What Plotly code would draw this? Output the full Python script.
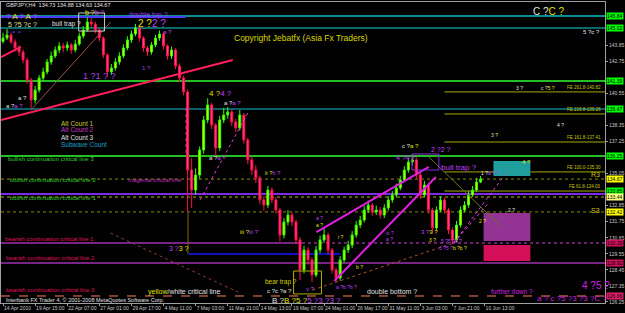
import plotly.graph_objects as go

# ---------------- data (GBPJPY H4, every 2nd bar) ----------------
first_open = 144.10
closes = [144.33,144.54,144.06,143.65,143.37,142.83,141.46,140.09,140.77,141.59,
          142.01,142.69,143.10,143.51,143.79,143.65,143.86,143.51,143.92,144.47,
          144.88,145.43,145.29,144.88,144.33,143.17,142.01,142.28,142.69,143.10,
          143.65,144.20,144.61,145.02,144.33,143.65,143.37,143.86,144.33,144.61,
          143.79,143.10,143.51,142.42,141.59,140.64,135.29,133.92,134.95,136.66,
          138.72,139.75,138.37,136.80,138.72,139.06,139.27,138.58,138.17,139.06,
          137.35,135.98,135.29,134.74,133.24,132.89,133.92,133.24,132.55,130.84,
          131.73,132.21,131.73,130.50,128.44,129.81,129.13,128.10,129.81,130.50,
          130.84,129.81,128.44,127.89,129.13,129.81,130.15,130.84,131.52,131.86,
          132.55,132.89,132.41,132.55,132.21,132.69,133.24,133.58,134.06,134.61,
          135.29,135.84,135.98,134.95,133.58,134.26,132.55,131.32,132.55,133.24,
          132.55,131.18,130.50,131.52,132.55,132.89,133.58,133.92,134.47,134.67]
highs = [144.70,144.95,144.70,144.25,143.85,143.55,143.00,141.60,141.05,141.80,
         142.30,142.90,143.40,143.75,144.05,144.00,144.10,144.00,144.20,144.70,
         145.15,145.75,145.70,145.45,145.00,144.45,143.30,142.55,142.95,143.35,
         143.90,144.45,144.85,145.30,145.10,144.45,143.80,144.05,144.55,144.85,
         144.70,143.90,143.75,143.65,142.60,141.75,140.80,136.10,135.40,136.90,
         139.00,140.20,139.90,138.50,139.00,139.55,139.60,139.40,138.80,139.40,
         139.20,137.50,136.20,135.60,134.90,133.50,134.20,134.10,133.45,132.70,
         132.00,132.55,132.40,131.90,130.70,130.10,130.00,129.30,130.10,130.80,
         131.30,131.00,129.95,128.60,129.40,130.05,130.45,131.10,131.80,132.15,
         132.85,133.20,133.05,132.85,132.75,132.95,133.50,133.85,134.35,134.90,
         135.55,136.10,136.32,136.15,135.10,134.55,134.40,132.70,132.80,133.50,
         133.40,132.70,131.35,131.80,132.80,133.15,133.85,134.20,134.73,134.88]
lows = [143.95,144.20,143.90,143.40,143.10,142.60,141.20,139.54,139.85,140.60,
        141.40,141.85,142.50,142.95,143.30,143.35,143.45,143.25,143.35,143.80,
        144.30,144.75,145.05,144.65,144.10,142.95,141.65,141.80,142.10,142.50,
        142.95,143.50,144.00,144.45,144.10,143.40,143.10,143.20,143.70,144.15,
        143.55,142.85,142.90,142.20,141.30,140.40,132.41,132.70,133.60,134.70,
        136.40,138.50,138.10,136.20,136.60,138.50,138.80,138.30,137.90,138.00,
        137.10,135.70,134.95,134.40,132.95,132.50,132.70,133.00,132.30,130.40,
        130.60,131.50,131.45,130.20,127.76,128.20,128.80,127.62,127.95,129.60,
        130.30,129.55,128.20,127.62,127.70,128.95,129.60,129.95,130.65,131.30,
        131.70,132.35,132.15,132.20,131.95,132.00,132.50,133.05,133.40,133.90,
        134.45,135.10,135.60,134.70,133.30,133.40,132.30,130.97,131.15,132.40,
        132.30,130.90,130.22,130.35,131.35,132.40,132.70,133.45,133.80,134.40]
opens = [first_open] + closes[:-1]
bar_index = list(range(0, 2 * len(closes), 2))

x_tick_bars = [0, 16, 32, 48, 64, 80, 96, 112, 128, 144, 160, 176, 192, 208, 224, 240]
x_tick_labels = ["14 Apr 2010", "19 Apr 15:00", "22 Apr 07:00", "27 Apr 01:00", "29 Apr 17:00",
                 "4 May 11:00", "7 May 03:00", "11 May 21:00", "14 May 13:00", "19 May 07:00",
                 "24 May 01:00", "26 May 17:00", "31 May 11:00", "3 Jun 03:00", "7 Jun 21:00",
                 "10 Jun 13:00"]
# axis ticks not hidden behind the coloured price tags
y_tick_values = [126.25, 127.35, 128.45, 129.55, 130.65, 131.75, 132.85, 135.05,
                 137.25, 138.35, 140.55, 142.75, 143.85]

# horizontal levels: price, from bar, to bar, colour, width, dash
h_levels = [
    (145.84, -1, 300, '#0e8f8f', 2, 'solid'),
    (145.02, -1, 300, '#0e8f8f', 1.5, 'solid'),
    (145.77, -1, 91, '#4b3cff', 2, 'solid'),
    (144.74, 1.5, 10, '#4040ff', 1, 'dot'),
    (141.39, -1, 300, '#32ff32', 1.5, 'solid'),
    (139.47, -1, 300, '#0e7f8f', 1.5, 'solid'),
    (136.25, -1, 300, '#32ff32', 1.5, 'solid'),
    (134.67, -1, 300, '#8c8c00', 1, 'dot'),
    (133.65, -1, 300, '#7b2be2', 2, 'solid'),
    (133.44, -1, 300, '#b0b000', 1, 'dot'),
    (132.42, -1, 300, '#8c8c00', 1, 'dot'),
    (130.29, -1, 149, '#a030b0', 1.5, 'solid'),
    (130.29, 149, 300, '#d040d0', 1, 'dot'),
    (128.92, -1, 300, '#a030b0', 1.5, 'solid'),
    (126.66, -1, 300, '#ff7f60', 1, 'dash'),
    (129.54, 92.5, 168, '#1010c0', 2, 'solid'),
]
fe_levels = [140.64, 139.13, 137.21, 135.16, 133.85]
fe_labels = ["FE 261.8-140.82", "FE 216.8-139.26", "FE 161.8-137.41", "FE 100.0-135.30", "FE 61.8-134.00"]

# right-axis highlighted price labels
price_tags = [(145.84, '#00ff00'), (145.02, '#00ff00'), (141.39, '#00ff00'), (139.47, '#00ff00'),
              (136.25, '#00ff00'), (134.67, '#ffff00'), (133.85, '#00ff00'), (133.44, '#ffff80'),
              (132.42, '#ffff00'), (130.29, '#d0105a'), (128.92, '#d0105a'), (126.66, '#e0206a')]

# trend lines: x0 bar, y0, x1 bar, y1, colour, width, dash
trend_lines = [
    (-1, 138.72, 114.5, 142.83, '#ff1f5a', 2, 'solid'),
    (-1, 143.03, 8.9, 143.72, '#ff1f5a', 2, 'solid'),
    (13.9, 139.40, 53.6, 145.43, '#a0504a', 1, 'solid'),
    (98.2, 133.24, 122.0, 139.20, '#e040c0', 1, 'dot'),
    (91.2, 139.54, 91.2, 136.46, '#ff3080', 1, 'dot'),
    (92.2, 132.35, 92.2, 129.54, '#7a6a00', 1, 'solid'),
    (53.6, 130.97, 118.0, 126.87, '#8b3a3a', 1, 'dot'),
    (154.2, 127.07, 224.6, 130.29, '#a0522d', 1, 'dot'),
    (156.2, 131.04, 212.2, 135.50, '#e020e0', 2, 'solid'),
    (165.1, 127.69, 215.7, 134.81, '#e020e0', 2, 'solid'),
    (224.6, 130.29, 251.9, 135.29, '#e040e0', 1, 'dot'),
    (224.6, 130.29, 241.9, 133.03, '#e040e0', 1, 'dot'),
    (212.2, 136.18, 248.4, 131.39, '#707020', 1, 'solid'),
]
# boxes: x0, x1, y0, y1, fill, line
boxes = [
    (244.4, 262.8, 134.88, 135.91, '#1f9e9e', None),
    (239.5, 262.8, 130.43, 132.35, '#933393', None),
    (239.5, 262.8, 129.06, 130.15, '#d4105a', None),
    (37.7, 50.6, 144.81, 146.05, None, '#c8c8c8'),
    (144.8, 158.7, 126.80, 128.37, None, '#b0b000'),
    (203.8, 217.2, 135.29, 136.39, None, '#8a2be2'),
]

Y = '#e0e000'; M = '#c040ff'; W = '#e0e0e0'; P = '#d020e0'
def sp(parts):
    return ''.join(f'<span style="color:{c}">{t}</span>' for t, c in parts)

# wave labels: bar, price, text parts, size
wave_labels = [
    (0.5, 145.84, [("? ", M), ("A ", Y), ("? ", M), ("A ", Y), ("?", M)], 8),
    (1.5, 145.23, [("5 ?5 ?c ?", '#e0e0a0')], 7),
    (23.3, 145.29, [("bull trap ?", W)], 6.5),
    (39.7, 146.11, [("b ?", Y), ("b ?", M)], 7),
    (62.0, 145.91, [("double top ?", '#9a40ff')], 7),
    (66.4, 145.36, [("2 ?", Y), ("2 ?", M)], 10),
    (78.8, 144.74, [("a ?", M)], 6),
    (38.7, 141.73, [("1 ?1 ? ?", '#b040e0')], 9),
    (68.4, 142.28, [("1 ?", '#a040e0')], 6),
    (6.4, 140.22, [("a ?", W)], 6),
    (0.5, 139.68, [("a ?", W), ("a ?", M)], 6),
    (263.3, 146.18, [("C ?", W), ("C ?", Y)], 10),
    (288.0, 144.74, [("5 ?c ?", W)], 6),
    (254.8, 140.91, [("3 ?", W)], 5),
    (267.2, 140.91, [("c ?", W), ("5 ?", Y)], 5),
    (275.2, 138.37, [("4 ?", W)], 5),
    (242.0, 137.69, [("3 ?", '#e0e0a0')], 5),
    (101.6, 140.50, [("4 ?", Y), ("4 ?", M)], 8),
    (109.1, 139.88, [("a ?", W), ("a ?", M)], 6),
    (101.6, 136.11, [("a ?", W), ("a ?", M)], 6),
    (129.4, 135.09, [("ii ?", Y), ("ii ?", M)], 6),
    (194.8, 136.18, [("4 ?4 ?", M)], 7),
    (197.8, 136.94, [("c ?", W), ("a ?", Y)], 6),
    (212.2, 136.73, [("2 ?2 ?", M)], 7),
    (217.2, 135.43, [("bull trap ?", M)], 8),
    (237.0, 135.09, [("1 ?", W), ("a ? ?", M)], 5),
    (257.8, 135.84, [("4 ?", Y)], 6),
    (250.9, 132.55, [("2 ?", W)], 5),
    (236.0, 131.80, [("2 ?", Y)], 5),
    (207.2, 131.04, [("3 ?", M), ("3 ?", Y)], 6),
    (211.2, 130.50, [("3 ?", Y)], 5),
    (217.2, 130.43, [("5 ?5 ?3 ?", M)], 5),
    (216.2, 129.95, [("3 ?5 ?", M), ("b ?b ?", Y)], 5),
    (117.0, 131.04, [("iii ?", Y), ("iii ?", M)], 6),
    (81.8, 129.88, [("3 ?", M), ("3 ?", Y)], 7),
    (129.4, 127.62, [("bear trap ?", '#d0d000')], 6.5),
    (130.4, 127.00, [("c ?c ?a ?", W)], 6),
    (180.5, 127.00, [("double bottom ?", W)], 7),
    (242.0, 127.00, [("further down ?", P)], 6.5),
    (287.5, 127.35, [("4 ?5 ?", P)], 10),
    (265.2, 126.52, [("a ? c ?5 ?3 ?3 ?C ?", P)], 8),
    (132.9, 126.32, [("B ?", W), ("B ?", Y), ("5 ?", Y), ("5 ?", M), ("3 ?3 ?", M)], 8),
    (71.4, 126.94, [("yellow", Y), ("/white critical line", W)], 7),
    (150.2, 127.14, [("v ?", M)], 6),
    (165.1, 127.28, [("a ?b ?b ?", M)], 5),
    (155.2, 132.00, [("a ?", M)], 5),
    (155.2, 131.52, [("a ?", Y)], 5),
    (166.1, 130.70, [("i ?", Y)], 5),
    (175.0, 128.64, [("b ?", Y)], 5),
    (190.0, 130.97, [("iv ?", M)], 5),
    (190.0, 130.56, [("a ?", M)], 5),
]

# fixed legend texts: paper x, paper y, text, colour, size
legend_texts = [
    (0.005, 0.990, "GBPJPY,H4  134.73 134.88 134.63 134.67", '#e0e0e0', 5.5),
    (0.0956, 0.598, "Alt Count 1", '#c8c832', 6.5),
    (0.0956, 0.575, "Alt Count 2", '#cc33cc', 6.5),
    (0.0956, 0.551, "Alt Count 3", '#e0e0e0', 6.5),
    (0.0956, 0.528, "Subwave Count", '#1ea0c8', 6.5),
    (0.008, 0.478, "bullish continuation critical line 3", '#32cd32', 6),
    (0.0115, 0.409, "bullish continuation critical line 2", '#32cd32', 6),
    (0.2076, 0.409, "magenta critical line", '#c030c0', 6),
    (0.0115, 0.349, "bullish continuation critical line 1", '#32cd32', 6),
    (0.003, 0.213, "bearish continuation critical line 1", '#e0105a', 6),
    (0.005, 0.150, "bearish continuation critical line 2", '#e0105a', 6),
    (0.005, 0.043, "bearish continuation critical line 3", '#e0105a', 6),
    (0.005, 0.010, "Interbank FX Trader 4, \u00a9 2001-2008 MetaQuotes Software Corp.", '#e0e0e0', 5.5),
]

FONT = "Liberation Sans"
fig = go.Figure()
fig.add_trace(go.Candlestick(
    x=bar_index, open=opens, high=highs, low=lows, close=closes,
    increasing=dict(line=dict(color='#30ff00', width=1), fillcolor='#d8ff00'),
    decreasing=dict(line=dict(color='#ff1040', width=1), fillcolor='#ff40a0'),
    whiskerwidth=0, showlegend=False, hoverinfo='skip'))

shapes = []
for p, x0, x1, c, w, d in h_levels:
    shapes.append(dict(type='line', xref='x', yref='y', x0=x0, x1=x1, y0=p, y1=p,
                       line=dict(color=c, width=w, dash=d), layer='below'))
for p in fe_levels:
    shapes.append(dict(type='line', xref='x', yref='y', x0=220, x1=300, y0=p, y1=p,
                       line=dict(color='#a8a800', width=1), layer='below'))
for x0, y0, x1, y1, c, w, d in trend_lines:
    shapes.append(dict(type='line', xref='x', yref='y', x0=x0, x1=x1, y0=y0, y1=y1,
                       line=dict(color=c, width=w, dash=d)))
for x0, x1, y0, y1, f, lc in boxes:
    if f:
        shapes.append(dict(type='rect', xref='x', yref='y', x0=x0, x1=x1, y0=y0, y1=y1,
                           fillcolor=f, line=dict(width=0), layer='below'))
    else:
        shapes.append(dict(type='rect', xref='x', yref='y', x0=x0, x1=x1, y0=y0, y1=y1,
                           line=dict(color=lc, width=1)))

ann = []
ann.append(dict(xref='paper', yref='paper', x=0.4975, y=0.880, text="Copyright Jebatfx (Asia Fx Traders)",
                showarrow=False, font=dict(family=FONT, size=8.5, color='#d8d800'), xanchor='center', yanchor='middle'))
for x, y, t, c, s in legend_texts:
    ann.append(dict(xref='paper', yref='paper', x=x, y=y, text=t, showarrow=False,
                    font=dict(family=FONT, size=s, color=c), xanchor='left', yanchor='middle'))
for x, y, parts, s in wave_labels:
    ann.append(dict(xref='x', yref='y', x=x, y=y, text=sp(parts), showarrow=False,
                    font=dict(family=FONT, size=s), xanchor='left', yanchor='middle'))
for p, t in zip(fe_levels, fe_labels):
    ann.append(dict(xref='paper', yref='y', x=0.997, y=p, text=t, showarrow=False,
                    font=dict(family=FONT, size=4.5, color='#c8c800'), xanchor='right', yanchor='bottom'))
ann.append(dict(xref='paper', yref='y', x=0.995, y=132.55, text="S3", showarrow=False,
                font=dict(family=FONT, size=7, color='#c8c800'), xanchor='right', yanchor='middle'))
ann.append(dict(xref='paper', yref='y', x=0.995, y=134.95, text="R3", showarrow=False,
                font=dict(family=FONT, size=7, color='#c8c800'), xanchor='right', yanchor='middle'))
for p, bg in price_tags:
    ann.append(dict(xref='paper', yref='y', x=1.0, y=p, text=f"{p:.2f}", showarrow=False,
                    font=dict(family=FONT, size=5, color='#000000'), bgcolor=bg, borderpad=0,
                    xanchor='left', yanchor='middle', xshift=1))

fig.update_layout(
    width=625, height=313, margin=dict(l=0, r=18, t=2, b=10),
    paper_bgcolor='#000000', plot_bgcolor='#000000',
    shapes=shapes, annotations=ann, showlegend=False,
    xaxis=dict(range=[-1, 300], showgrid=False, zeroline=False, rangeslider=dict(visible=False),
               tickvals=x_tick_bars, ticktext=x_tick_labels, ticks='outside', ticklen=2,
               tickangle=0, tickcolor='#a0a0a0', tickfont=dict(family=FONT, size=5, color='#c8c8c8'),
               ticklabelposition='outside right', showline=True, linecolor='#a0a0a0', mirror=True),
    yaxis=dict(range=[126.18, 146.80], side='right', showgrid=False, zeroline=False,
               tickvals=y_tick_values, ticktext=[f"{v:.2f}" for v in y_tick_values],
               ticks='outside', ticklen=2, tickcolor='#a0a0a0',
               tickfont=dict(family=FONT, size=5, color='#c8c8c8'),
               showline=True, linecolor='#a0a0a0', mirror=True),
)
fig.write_html("out.html")
